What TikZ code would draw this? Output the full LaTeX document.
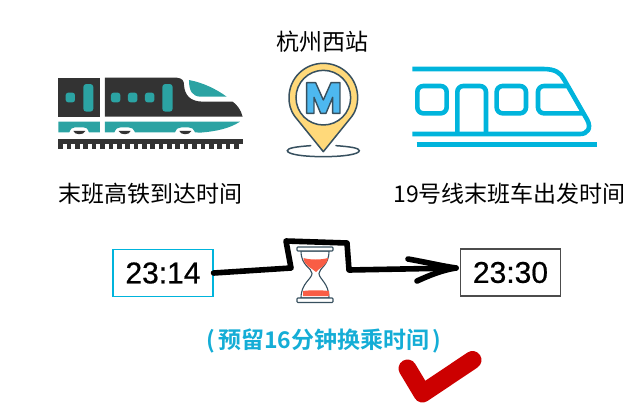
\documentclass[tikz,border=0pt]{standalone}
\usepackage{fontspec}
\setmainfont{Liberation Sans}
\newfontfamily\timefont[FakeBold=0.6]{Liberation Sans}
\newfontfamily\cjk{Noto Sans CJK SC}
\newfontfamily\cjkb{Noto Sans CJK SC Bold}
\definecolor{traindark}{HTML}{333333}
\definecolor{trainteal}{HTML}{2BA3A3}
\definecolor{metro}{HTML}{00B4DC}
\definecolor{pindark}{HTML}{37505F}
\definecolor{pinyellow}{HTML}{FFD97A}
\definecolor{pinblue}{HTML}{4DB8F0}
\definecolor{sand}{HTML}{F95D45}
\definecolor{note}{HTML}{14ADD6}
\definecolor{tick}{HTML}{CC0000}
\tikzset{
  label cn/.style={font=\cjk\fontsize{23}{26}\selectfont,text=black,inner sep=0pt},
  timebox/.style={draw,line width=1.1pt,fill=white,minimum width=100pt,minimum height=47pt,inner sep=0pt,font=\timefont\fontsize{30}{34}\selectfont},
  metroline/.style={draw=metro,line width=4.6pt,line join=round},
  handline/.style={line width=5.6pt,line join=round,line cap=round}
}
\begin{document}
\begin{tikzpicture}[x=1pt,y=-1pt]
\useasboundingbox (0,0) rectangle (640,416);
% high speed train
\begin{scope}[shift={(40,60)},x=0.3333pt,y=-0.3333pt]
\fill[traindark] (55,53) rectangle (180,170);
\fill[traindark] (195,53) -- (410,53) .. controls (428,55) and (432,62) .. (432,75) .. controls (434,105) and (450,125) .. (490,125) -- (578,125) .. controls (592,135) and (603,150) .. (608,170) -- (195,170) -- cycle;
\foreach \x in {77,213,264,315}{\fill[trainteal,rounded corners=2.5pt] (\x,98) rectangle (\x+28,127);}
\fill[trainteal,rounded corners=3pt] (130,72) rectangle (160,155);
\fill[trainteal,rounded corners=3pt] (367,72) rectangle (398,155);
\fill[trainteal] (447,60) .. controls (490,68) and (530,88) .. (560,110) -- (480,110) .. controls (458,108) and (447,95) .. (447,60) -- cycle;
\fill[trainteal] (55,185) -- (180,185) -- (180,217) -- (147,217) .. controls (142,204) and (138,202) .. (130,202) -- (105,202) .. controls (97,202) and (92,206) .. (88,217) -- (55,217) -- cycle;
\fill[trainteal] (195,185) -- (600,185) .. controls (570,205) and (530,214) .. (480,218) -- (465,217) .. controls (460,206) and (455,202) .. (445,202) -- (425,202) .. controls (415,202) and (410,206) .. (405,217) -- (285,217) .. controls (280,206) and (275,202) .. (265,202) -- (242,202) .. controls (232,202) and (228,206) .. (223,217) -- (195,217) -- cycle;
\foreach \x in {118,254,436}{\fill[traindark] (\x-18,213) .. controls (\x-14,226) and (\x+14,226) .. (\x+18,213) -- cycle;}
\fill[traindark] (55,236) rectangle (608,253);
\foreach \i in {0,...,21}{\fill[traindark] (55+\i*25.1,253) rectangle (55+\i*25.1+14,267);}
\end{scope}
% station pin
\begin{scope}[shift={(270,20)},x=0.3333pt,y=-0.3333pt]
\draw[pindark,line width=1.5pt,line cap=round] (122,377) .. controls (80,380) and (52,384) .. (52,392) .. controls (52,403) and (100,410) .. (160,410) .. controls (220,410) and (268,403) .. (268,392) .. controls (268,384) and (240,380) .. (198,377);
\draw[pindark,line width=1.5pt,fill=pinyellow,line join=round] (160,395) -- (75,290) .. controls (60,270) and (57,250) .. (57,233) .. controls (57,175) and (103,130) .. (160,130) .. controls (217,130) and (263,175) .. (263,233) .. controls (263,250) and (260,270) .. (245,290) -- cycle;
\draw[pindark,line width=1.5pt,fill=white] (160,233) circle[radius=82];
\draw[pindark,line width=1.4pt,fill=pinblue,line join=round] (110,188) -- (137,188) -- (160,240) -- (183,188) -- (210,188) -- (210,280) -- (188,280) -- (188,232) -- (168,280) -- (152,280) -- (132,232) -- (132,280) -- (110,280) -- cycle;
\end{scope}
% metro train
\begin{scope}[shift={(400,60)},x=0.3333pt,y=-0.3333pt]
\path[metroline] (37,27) -- (430,27) .. controls (465,27) and (482,38) .. (492,58) -- (562,180) .. controls (575,205) and (562,222) .. (540,222) -- (37,222);
\path[metroline,rounded corners=6pt] (52,78) rectangle (140,160);
\path[metroline,rounded corners=6pt] (172,222) -- (172,78) -- (258,78) -- (258,222);
\path[metroline,rounded corners=6pt] (290,78) rectangle (378,160);
\path[metroline,rounded corners=6pt] (500,78) -- (414,78) -- (414,160) -- (555,160);
\draw[metro,line width=5.4pt] (50,254) -- (590,254);
\end{scope}
% labels
\node[label cn] (station) at (322.5,42) {杭州西站};
\node[label cn] (hsr) at (150,194) {末班高铁到达时间};
\node[label cn] (line19) at (509.5,194) {19号线末班车出发时间};
% times
\node[timebox,draw=metro] (t1) at (163,273) {23:14};
\node[timebox,draw=black!70] (t2) at (510.5,272.5) {23:30};
% hourglass
\begin{scope}
\draw[pindark,line width=1.1pt,fill=white] (301,251) .. controls (301,266) and (312,268) .. (312,273.5) .. controls (312,279) and (301,283) .. (301,298) -- (329,298) .. controls (329,283) and (319,279) .. (319,273.5) .. controls (319,268) and (329,266) .. (329,251) -- cycle;
\fill[sand] (303.5,258) .. controls (310,260) and (321,260) .. (328,258) .. controls (327,266) and (319,268) .. (316,272) .. controls (312,268) and (304,266) .. (303.5,258) -- cycle;
\fill[sand] (303,291) .. controls (311,290) and (320,290) .. (329,291) -- (329,296) -- (303,296) -- cycle;
\draw[pindark,line width=1.1pt,fill=white,rounded corners=0.8pt] (297,247) rectangle (333,251);
\draw[pindark,line width=1.1pt,fill=white,rounded corners=0.8pt] (297,298) rectangle (333,302.5);
\end{scope}
% connector
\coordinate (c1) at (291,268);
\coordinate (c2) at (286,241);
\coordinate (c3) at (347,243);
\coordinate (c4) at (349,270);
\coordinate (tip) at (456,268);
\coordinate (h1) at (408,259);
\coordinate (h2) at (417,281);
\draw[handline] (t1.east) -- (c1) -- (c2) -- (c3) -- (c4) -- (tip);
\draw[handline] (h1) .. controls (425,262) and (442,266) .. (tip) .. controls (442,270) and (428,276) .. (h2);
% note
\node[inner sep=0pt,text=note,font=\cjkb\fontsize{23}{26}\selectfont] (note) at (324,341) {(\hspace{3pt}预留16分钟换乘时间\hspace{3pt})};
% tick
\coordinate (k1) at (407.5,368.5);
\coordinate (k2) at (422.5,393.5);
\coordinate (k3) at (472.5,360);
\draw[tick,line width=18pt,line cap=round,line join=round] (k1) -- (k2) -- (k3);
\end{tikzpicture}
\end{document}
